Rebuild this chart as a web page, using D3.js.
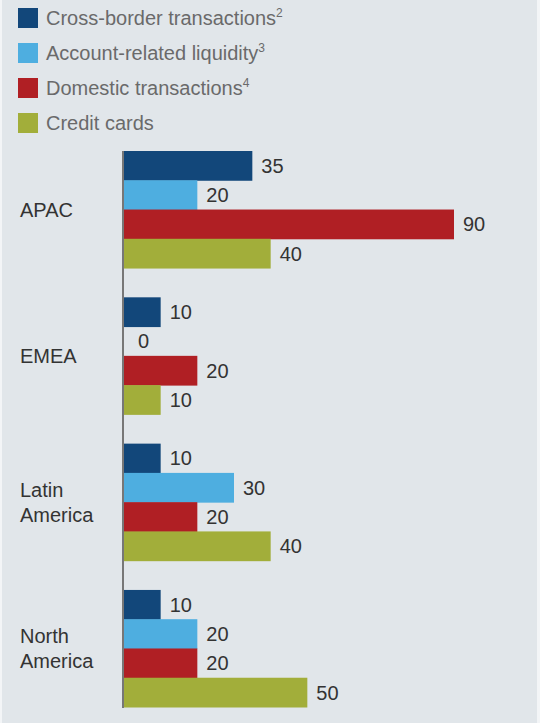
<!DOCTYPE html>
<html>
<head>
<meta charset="utf-8">
<script src="https://cdn.jsdelivr.net/npm/d3@7"></script>
<style>
  body { margin: 0; background: #f3f5f7; }
  svg { display: block; font-family: "Liberation Sans", Arial, sans-serif; }
</style>
</head>
<body>
<div id="chart"></div>
<script>
// data
const regions = [["APAC"], ["EMEA"], ["Latin", "America"], ["North", "America"]];
const series = ["Cross-border transactions", "Account-related liquidity", "Domestic transactions", "Credit cards"];
const footnotes = ["2", "3", "4", ""];
const colors = ["#12477a", "#4eaee0", "#b01f24", "#a2ae3a"];
const values = [
  [35, 20, 90, 40],   // APAC
  [10, 0, 20, 10],    // EMEA
  [10, 30, 20, 40],   // Latin America
  [10, 20, 20, 50]    // North America
];

const W = 540, H = 723;
const svg = d3.select("#chart").append("svg").attr("width", W).attr("height", H);

// panel background
svg.append("rect").attr("x", 2).attr("y", 0).attr("width", 535).attr("height", H).attr("fill", "#e1e6ea");

// legend
const legend = svg.append("g").selectAll("g").data(series).enter().append("g")
  .attr("transform", (d, i) => `translate(18,${8 + i * 35})`);
legend.append("rect").attr("width", 20).attr("height", 20).attr("fill", (d, i) => colors[i]);
const lt = legend.append("text").attr("x", 28).attr("y", 17)
  .attr("font-size", 20).attr("fill", "#6a6a6a");
lt.append("tspan").text(d => d);
lt.append("tspan").attr("font-size", 12).attr("dy", -8).text((d, i) => footnotes[i]);

// scales
const x = d3.scaleLinear().domain([0, 90]).range([124, 454]);
const y0 = d3.scaleBand().domain(d3.range(regions.length)).range([151, 707]).paddingInner(0.2).paddingOuter(0);
const y1 = d3.scaleBand().domain(d3.range(series.length)).range([0, y0.bandwidth()]);

const groups = svg.append("g").selectAll("g").data(values).enter().append("g")
  .attr("transform", (d, i) => `translate(0,${y0(i)})`);

groups.selectAll("rect").data(d => d).enter().append("rect")
  .attr("x", x(0))
  .attr("y", (d, i) => y1(i))
  .attr("width", d => x(d) - x(0))
  .attr("height", y1.bandwidth() + 0.5)
  .attr("fill", (d, i) => colors[i]);

groups.selectAll("text.val").data(d => d).enter().append("text")
  .attr("class", "val")
  .attr("x", d => x(d) + (d === 0 ? 14 : 9))
  .attr("y", (d, i) => y1(i) + y1.bandwidth() / 2)
  .attr("dy", "0.36em")
  .attr("font-size", 20).attr("fill", "#333")
  .text(d => d);

// region labels
groups.each(function(d, i) {
  const lines = regions[i];
  const cy = y0.bandwidth() / 2;
  const lh = 25;
  d3.select(this).selectAll("text.cat").data(lines).enter().append("text")
    .attr("class", "cat")
    .attr("x", 20)
    .attr("y", (t, j) => cy + (j - (lines.length - 1) / 2) * lh)
    .attr("dy", "0.36em")
    .attr("font-size", 20).attr("fill", "#333")
    .text(t => t);
});

// vertical axis line
svg.append("line").attr("x1", 123).attr("x2", 123).attr("y1", 151).attr("y2", 708)
  .attr("stroke", "#777").attr("stroke-width", 2);
</script>
</body>
</html>
